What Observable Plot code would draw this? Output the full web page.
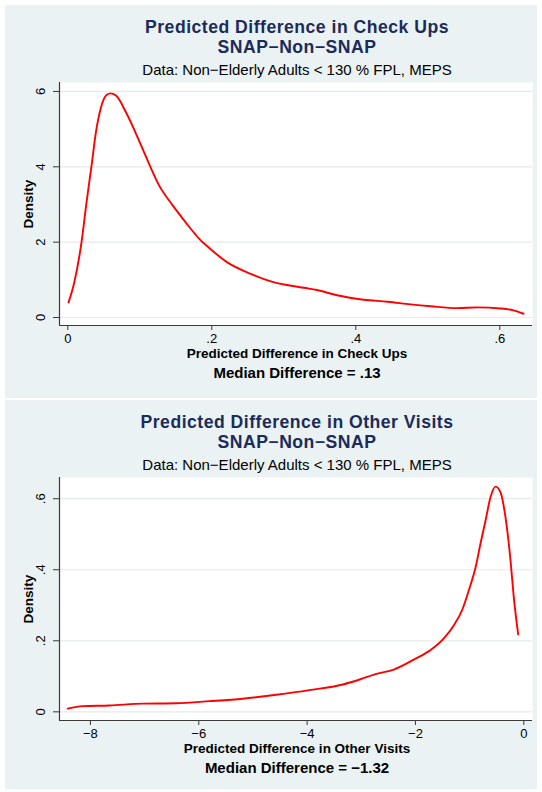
<!DOCTYPE html>
<html><head><meta charset="utf-8">
<script src="https://cdn.jsdelivr.net/npm/d3@7"></script>
<script src="https://cdn.jsdelivr.net/npm/@observablehq/plot@0.6"></script>
<style>
html,body{margin:0;padding:0;background:#fff;}
body{width:542px;height:792px;position:relative;overflow:hidden;font-family:"Liberation Sans",Arial,Helvetica,sans-serif;}
.panel{position:absolute;left:5px;width:532px;background:#eaf2f3;}
.t{position:absolute;left:42px;width:500px;text-align:center;line-height:1;white-space:nowrap;}
.title{font-size:17.6px;letter-spacing:0.5px;line-height:19.7px;font-weight:bold;color:#1c2b5a;}
.sub{font-size:15px;color:#000;}
.xlab{font-size:13.5px;font-weight:bold;color:#000;}
.note{font-size:15px;font-weight:bold;color:#000;}
</style>
</head><body>
<script>
// Panel 1: Predicted Difference in Check Ups
const checkX = [0.001, 0.009, 0.019, 0.026, 0.033, 0.039, 0.046, 0.053, 0.059, 0.067, 0.081, 0.100, 0.114, 0.127, 0.146, 0.164, 0.183, 0.198, 0.221, 0.254, 0.282, 0.328, 0.346, 0.374, 0.411, 0.444, 0.476, 0.504, 0.541, 0.569, 0.601, 0.619, 0.633];
const checkY = [0.40, 0.93, 1.99, 3.05, 4.03, 4.91, 5.57, 5.89, 5.95, 5.89, 5.44, 4.65, 4.03, 3.50, 2.97, 2.52, 2.08, 1.82, 1.47, 1.16, 0.96, 0.79, 0.73, 0.59, 0.47, 0.42, 0.35, 0.30, 0.25, 0.27, 0.24, 0.19, 0.10];
const checkXTicks = [0, 0.2, 0.4, 0.6];
const checkYTicks = [0, 2, 4, 6];
const checkXDomain = [-0.0115, 0.6454];
const checkYDomain = [-0.212, 6.238];

// Panel 2: Predicted Difference in Other Visits
const otherX = [-8.42, -8.14, -7.65, -7.03, -6.42, -5.80, -5.19, -4.57, -3.96, -3.34, -3.03, -2.72, -2.40, -2.03, -1.72, -1.48, -1.29, -1.14, -1.015, -0.89, -0.80, -0.707, -0.615, -0.522, -0.43, -0.338, -0.245, -0.185, -0.104];
const otherY = [0.009, 0.016, 0.018, 0.023, 0.024, 0.030, 0.037, 0.048, 0.061, 0.077, 0.091, 0.107, 0.119, 0.147, 0.174, 0.206, 0.244, 0.286, 0.342, 0.407, 0.473, 0.538, 0.604, 0.634, 0.618, 0.548, 0.426, 0.323, 0.218];
const otherXTicks = [-8, -6, -4, -2, 0];
const otherYTicks = [0, 0.2, 0.4, 0.6];
const otherXDomain = [-8.571, 0.1606];
const otherYDomain = [-0.0244, 0.6597];

const titles1 = [["Predicted Difference in Check Ups", "SNAP\u2212Non\u2212SNAP"], "Data: Non\u2212Elderly Adults < 130 % FPL, MEPS", "Predicted Difference in Check Ups", "Median Difference = .13"];
const titles2 = [["Predicted Difference in Other Visits", "SNAP\u2212Non\u2212SNAP"], "Data: Non\u2212Elderly Adults < 130 % FPL, MEPS", "Predicted Difference in Other Visits", "Median Difference = \u22121.32"];

function fmt(d) {
  if (d === 0) return "0";
  const a = Math.abs(d);
  let s = String(+a.toFixed(4));
  if (s.startsWith("0.")) s = s.slice(1);
  return (d < 0 ? "\u2212" : "") + s;
}

function panel(top, h, xs, ys, xTicks, yTicks, xDom, yDom, texts) {
  const div = document.createElement("div");
  div.className = "panel";
  div.style.top = top + "px";
  div.style.height = h + "px";
  const specs = [["title", 13.45], ["sub", 57.3], ["xlab", 341.6], ["note", 360.3]];
  specs.forEach(([cls, y], i) => {
    const t = document.createElement("div");
    t.className = "t " + cls;
    t.style.top = y + "px";
    const v = texts[i];
    if (Array.isArray(v)) {
      v.forEach((line, j) => {
        if (j) t.appendChild(document.createElement("br"));
        t.appendChild(document.createTextNode(line));
      });
    } else {
      t.textContent = v;
    }
    div.appendChild(t);
  });
  const data = xs.map((x, i) => ({x, y: ys[i]}));
  const chart = Plot.plot({
    width: 532, height: 283,
    marginLeft: 54, marginRight: 5, marginTop: 10, marginBottom: 30,
    x: {domain: xDom, axis: null},
    y: {domain: yDom, axis: null},
    style: {background: "transparent", fontFamily: "'Liberation Sans', Arial, sans-serif", fontSize: "13px", overflow: "visible"},
    marks: [
      Plot.frame({fill: "white", stroke: "none"}),
      Plot.gridY(yTicks, {stroke: "#e3ebee", strokeOpacity: 1, strokeWidth: 1.2}),
      Plot.ruleX([xDom[0]], {stroke: "#3a3a3a", strokeWidth: 1.2}),
      Plot.ruleY([yDom[0]], {stroke: "#3a3a3a", strokeWidth: 1.2}),
      Plot.line(data, {x: "x", y: "y", stroke: "#ff0000", strokeWidth: 1.9, curve: "monotone-x"}),
      Plot.axisX(xTicks, {anchor: "bottom", tickSize: 5, tickPadding: 3.5, tickFormat: fmt, stroke: "#3a3a3a", fill: "#000", fontSize: 13, label: null}),
      Plot.axisY(yTicks, {anchor: "left", tickSize: 6, tickFormat: () => "", stroke: "#3a3a3a", label: null}),
      Plot.text(yTicks, {x: xDom[0], y: d => d, text: fmt, rotate: -90, dx: -19, textAnchor: "middle", lineAnchor: "middle", fontSize: 13, fill: "#000"}),
      Plot.text(["Density"], {frameAnchor: "left", dx: -31, rotate: -90, textAnchor: "middle", lineAnchor: "middle", fontWeight: "bold", fontSize: 13.5, fill: "#000"})
    ]
  });
  chart.style.position = "absolute";
  chart.style.left = "0px";
  chart.style.top = "67px";
  div.appendChild(chart);
  document.body.appendChild(div);
}

panel(5, 393, checkX, checkY, checkXTicks, checkYTicks, checkXDomain, checkYDomain, titles1);
panel(400, 389, otherX, otherY, otherXTicks, otherYTicks, otherXDomain, otherYDomain, titles2);
</script>
</body></html>
